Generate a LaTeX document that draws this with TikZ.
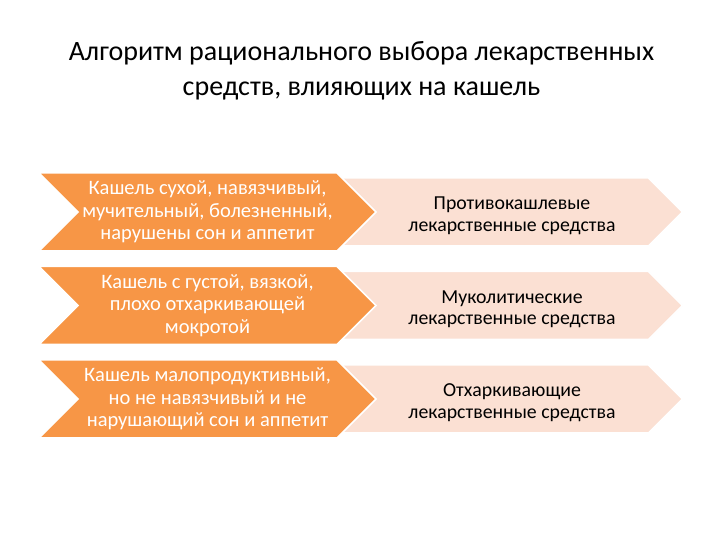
\documentclass[tikz,border=0pt]{standalone}
\usepackage{fontspec}
\setmainfont{Carlito}
\usetikzlibrary{shapes.symbols,positioning}
\definecolor{chevorange}{RGB}{247,150,70}
\definecolor{chevpink}{RGB}{251,224,211}

\begin{document}
\begin{tikzpicture}[
  x=1pt, y=1pt,
  node distance=14pt,
  every node/.style={align=center, inner sep=0pt},
  chevron/.style={shape=signal, signal from=west, signal to=east, draw=white, line width=1.5pt},
  cause/.style={chevron, fill=chevorange, text=white, minimum width=337pt, minimum height=78pt, font=\fontsize{20.5}{22.5}\selectfont},
  drug/.style={chevron, fill=chevpink, text=black, minimum width=341pt, minimum height=68pt, text height=39pt, text depth=0pt, font=\fontsize{19.8}{21.5}\selectfont},
  heading/.style={font=\fontsize{28}{34.5}\selectfont}
]
\useasboundingbox (0,0) rectangle (720,540);

\node (title) [heading] at (361.5,469) {Алгоритм рационального выбора лекарственных\\средств, влияющих на кашель};

% drugs first, so the causes lie on top of them
\node (d1) [drug] at (512,328) {Противокашлевые\\лекарственные средства};
\node (d2) [drug, below=24pt of d1] {Муколитические\\лекарственные средства};
\node (d3) [drug, below=24pt of d2] {Отхаркивающие\\лекарственные средства};

\node (c1) [cause] at (207.5,328) {Кашель сухой, навязчивый,\\мучительный, болезненный,\\нарушены сон и аппетит};
\node (c2) [cause, below=of c1] {Кашель с густой, вязкой,\\плохо отхаркивающей\\мокротой};
\node (c3) [cause, below=of c2] {Кашель малопродуктивный,\\но не навязчивый и не\\нарушающий сон и аппетит};
\end{tikzpicture}
\end{document}
